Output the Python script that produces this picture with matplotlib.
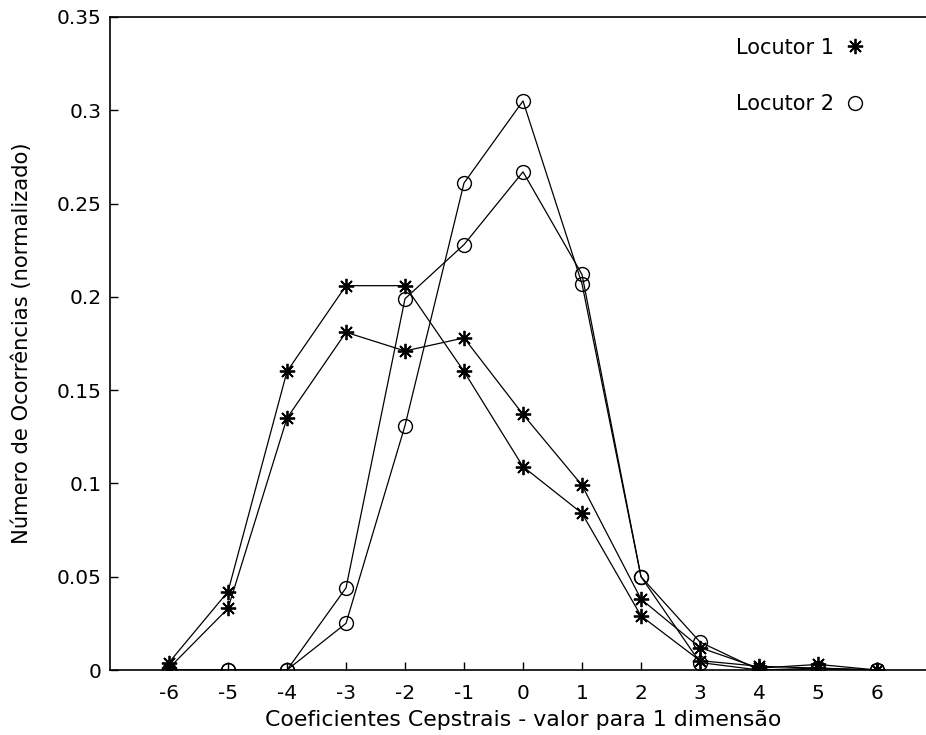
import matplotlib
matplotlib.use('Agg')
import matplotlib.pyplot as plt
import matplotlib.ticker as mticker

# Cepstral coefficient values (1 dimension)
coefs = [-6, -5, -4, -3, -2, -1, 0, 1, 2, 3, 4, 5, 6]

# Speaker 1 - two recordings
loc1_a = [0.004, 0.042, 0.160, 0.206, 0.206, 0.160, 0.109, 0.084, 0.029, 0.005, 0.002, 0.001, 0.000]
loc1_b = [0.001, 0.033, 0.135, 0.181, 0.171, 0.178, 0.137, 0.099, 0.038, 0.012, 0.001, 0.003, 0.000]

# Speaker 2 - two recordings
loc2_a = [0.000, 0.000, 0.000, 0.025, 0.131, 0.261, 0.305, 0.207, 0.050, 0.004, 0.000, 0.001, 0.000]
loc2_b = [0.000, 0.000, 0.000, 0.044, 0.199, 0.228, 0.267, 0.212, 0.050, 0.015, 0.000, 0.000, 0.000]

plt.rcParams['font.family'] = ['DejaVu Sans']
plt.rcParams['axes.unicode_minus'] = False

fig = plt.figure(figsize=(9.26, 7.35), dpi=100)
# axes box runs past the right edge of the figure
ax = fig.add_axes([110 / 926, 65 / 735, 826 / 926, 653 / 735])

star = (8, 2, 0)
ax.plot(coefs, loc1_a, color='black', lw=0.9, marker=star, ms=11, mew=1.3, label='Locutor 1')
ax.plot(coefs, loc1_b, color='black', lw=0.9, marker=star, ms=11, mew=1.3)
ax.plot(coefs, loc2_a, color='black', lw=0.9, marker='o', ms=10, mfc='none', mew=1.0, label='Locutor 2')
ax.plot(coefs, loc2_b, color='black', lw=0.9, marker='o', ms=10, mfc='none', mew=1.0)

ax.set_xlim(-7, 7)
ax.set_ylim(0, 0.35)
ax.set_xticks(coefs)
ax.set_yticks([0, 0.05, 0.1, 0.15, 0.2, 0.25, 0.3, 0.35])
ax.yaxis.set_major_formatter(mticker.FuncFormatter(lambda v, p: f'{v:g}'))
ax.tick_params(direction='in', length=6, width=1, labelsize=14.5, colors='black')
ax.tick_params(axis='x', pad=10)
ax.tick_params(axis='y', pad=6)
for s in ax.spines.values():
    s.set_linewidth(1.2)

ax.set_xlabel('Coeficientes Cepstrais - valor para 1 dimensão', fontsize=15.8, labelpad=5)
ax.set_ylabel('Número de Ocorrências (normalizado)', fontsize=15.2, labelpad=18)

leg = fig.legend(loc='upper left', bbox_to_anchor=(717 / 926, 1 - 19 / 735), frameon=False,
                 markerfirst=False, handlelength=0.6, handletextpad=0.7,
                 labelspacing=1.75, fontsize=15)
for h in leg.get_lines():
    h.set_linestyle('none')

fig.savefig('out.png', dpi=100)
